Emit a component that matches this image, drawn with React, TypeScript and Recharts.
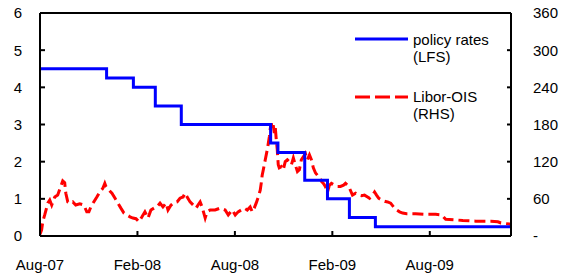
import React from 'react';
import { ComposedChart, Line, XAxis, YAxis, ReferenceLine, Legend } from 'recharts';

// x values are months since Aug-07
const xTicks = [0, 6, 12, 18, 24];
const xTickLabels = ['Aug-07', 'Feb-08', 'Aug-08', 'Feb-09', 'Aug-09'];
const leftTicks = [0, 1, 2, 3, 4, 5, 6];
const rightTicks = [0, 60, 120, 180, 240, 300, 360];

// policy rates (LFS), step changes
const policyMonths = [0, 4.1, 5.75, 7.1, 8.7, 14.2, 14.65, 16.3, 17.7, 19.05, 20.65, 29];
const policyRates = [4.5, 4.25, 4.0, 3.5, 3.0, 2.5, 2.25, 1.5, 1.0, 0.5, 0.25, 0.25];

// Libor-OIS (RHS), basis points
const liborMonths = [
  0, 0.1, 0.17, 0.29, 0.48, 0.6, 0.72, 0.91, 1.09, 1.28, 1.4, 1.52, 1.59, 1.71, 1.9, 2.02, 2.2, 2.45, 2.7, 2.88,
  3.01, 3.13, 3.31, 3.5, 3.68, 3.87, 3.99, 4.06, 4.25, 4.43, 4.62, 4.8, 4.98, 5.17, 5.35, 5.54, 5.72, 5.91, 6.09, 6.28,
  6.46, 6.65, 6.83, 7.02, 7.2, 7.39, 7.57, 7.76, 7.88, 8.07, 8.25, 8.44, 8.62, 8.81, 8.93, 9.06, 9.24, 9.43, 9.61, 9.73,
  9.86, 9.98, 10.17, 10.29, 10.48, 10.78, 11.09, 11.4, 11.59, 11.83, 12.02, 12.2, 12.39, 12.57, 12.76, 12.94, 13.07, 13.19, 13.31, 13.44,
  13.56, 13.62, 13.68, 13.75, 13.87, 13.99, 14.06, 14.12, 14.18, 14.24, 14.3, 14.36, 14.43, 14.49, 14.55, 14.61, 14.67, 14.73, 14.86, 14.98,
  15.1, 15.23, 15.35, 15.48, 15.6, 15.72, 15.85, 15.97, 16.09, 16.22, 16.34, 16.46, 16.59, 16.71, 16.83, 16.96, 17.08, 17.2, 17.33, 17.45,
  17.57, 17.7, 17.82, 17.94, 18.13, 18.31, 18.5, 18.69, 18.81, 18.93, 19.06, 19.24, 19.43, 19.61, 19.8, 19.98, 20.17, 20.29, 20.48, 20.6,
  20.72, 20.85, 21.04, 21.22, 21.4, 21.59, 21.77, 21.96, 22.14, 22.33, 22.57, 23.13, 23.75, 24.36, 24.73, 24.98, 25.6, 26.03, 26.83, 27.76,
  28.19, 28.38, 28.69, 29.0,
];
const liborBp = [
  3, 10, 23, 34, 53, 58, 50, 63, 66, 80, 89, 86, 69, 55, 53, 55, 50, 52, 50, 39,
  39, 47, 55, 63, 71, 77, 85, 80, 74, 69, 61, 53, 45, 37, 34, 31, 29, 28, 23, 31,
  39, 29, 42, 45, 47, 53, 47, 53, 42, 50, 54, 55, 61, 63, 69, 63, 55, 50, 45, 50,
  55, 47, 29, 39, 42, 42, 45, 42, 34, 42, 34, 39, 42, 45, 42, 47, 39, 45, 53, 63,
  74, 85, 98, 107, 123, 139, 150, 160, 174, 182, 171, 179, 166, 174, 155, 139, 115, 110, 112, 107,
  120, 123, 120, 115, 126, 115, 104, 107, 123, 128, 133, 123, 131, 123, 110, 102, 98, 96, 88, 85,
  80, 71, 82, 85, 82, 80, 80, 82, 85, 82, 77, 66, 69, 66, 65, 66, 63, 61, 66, 71,
  66, 61, 58, 56, 55, 53, 47, 42, 39, 37, 36, 36, 35, 35, 34, 27, 26, 25, 24, 24,
  23, 21, 20, 19,
];

const policyData = policyMonths.map((m, i) => ({ m, rate: policyRates[i] }));
const liborData = liborMonths.map((m, i) => ({ m, bp: liborBp[i] }));

const FONT = "'Liberation Sans', Arial, sans-serif";

const XTick = (props: any) => {
  const { x, y, payload } = props;
  const idx = xTicks.indexOf(payload.value);
  return (
    <g>
      <line x1={x} x2={x} y1={y - 5} y2={y} stroke="#000" strokeWidth={2} />
      <text x={x} y={y + 33.5} textAnchor="middle" fontSize={15} fontFamily={FONT} fill="#000">
        {xTickLabels[idx]}
      </text>
    </g>
  );
};

const LeftTick = (props: any) => {
  const { x, y, payload } = props;
  return (
    <g>
      <line x1={x} x2={x + 5} y1={y} y2={y} stroke="#000" strokeWidth={2} />
      <text x={x - 18} y={y} dy="0.36em" textAnchor="end" fontSize={15} fontFamily={FONT} fill="#000">
        {payload.value}
      </text>
    </g>
  );
};

const RightTick = (props: any) => {
  const { x, y, payload } = props;
  return (
    <g>
      <line x1={x - 4} x2={x} y1={y} y2={y} stroke="#000" strokeWidth={2} />
      <text x={x + 22} y={y} dy="0.36em" textAnchor="start" fontSize={15} fontFamily={FONT} fill="#000">
        {payload.value === 0 ? '-' : payload.value}
      </text>
    </g>
  );
};

const LegendContent = () => (
  <svg width={160} height={100} style={{ display: 'block' }}>
    <line x1={5} x2={58} y1={14} y2={14} stroke="#0000FF" strokeWidth={3} />
    <text x={63} y={20} fontSize={15} fontFamily={FONT} fill="#000">policy rates</text>
    <text x={63} y={37} fontSize={15} fontFamily={FONT} fill="#000">(LFS)</text>
    <line x1={5} x2={58} y1={72} y2={72} stroke="#FF0000" strokeWidth={3} strokeDasharray="15 5" />
    <text x={63} y={77} fontSize={15} fontFamily={FONT} fill="#000">Libor-OIS</text>
    <text x={63} y={94} fontSize={15} fontFamily={FONT} fill="#000">(RHS)</text>
  </svg>
);

export default function App() {
  return (
    <div>
      <style>{'body{margin:0;}'}</style>
      <ComposedChart width={574} height={277} margin={{ top: 13, right: 0, left: 0, bottom: 0 }}>
        <XAxis
          dataKey="m"
          type="number"
          domain={[0, 29]}
          ticks={xTicks}
          interval={0}
          height={41}
          tickSize={0}
          tickMargin={0}
          tickLine={false}
          tick={<XTick />}
          axisLine={{ stroke: '#000', strokeWidth: 2 }}
          allowDataOverflow
        />
        <YAxis
          yAxisId="left"
          orientation="left"
          domain={[0, 6]}
          ticks={leftTicks}
          interval={0}
          width={40}
          tickSize={0}
          tickMargin={0}
          tickLine={false}
          tick={<LeftTick />}
          axisLine={{ stroke: '#000', strokeWidth: 2 }}
        />
        <YAxis
          yAxisId="right"
          orientation="right"
          domain={[0, 360]}
          ticks={rightTicks}
          interval={0}
          width={63}
          tickSize={0}
          tickMargin={0}
          tickLine={false}
          tick={<RightTick />}
          axisLine={{ stroke: '#000', strokeWidth: 2 }}
        />
        <ReferenceLine yAxisId="left" y={6} stroke="#000" strokeWidth={2} />
        <Line
          yAxisId="right"
          data={liborData}
          dataKey="bp"
          name="Libor-OIS (RHS)"
          type="linear"
          stroke="#FF0000"
          strokeWidth={3}
          strokeDasharray="11 5"
          dot={false}
          isAnimationActive={false}
        />
        <Line
          yAxisId="left"
          data={policyData}
          dataKey="rate"
          name="policy rates (LFS)"
          type="stepAfter"
          stroke="#0000FF"
          strokeWidth={3}
          dot={false}
          isAnimationActive={false}
        />
        <Legend
          layout="vertical"
          align="center"
          verticalAlign="middle"
          content={<LegendContent />}
          wrapperStyle={{ left: 350, top: 25, width: 160, height: 100 }}
        />
      </ComposedChart>
    </div>
  );
}
